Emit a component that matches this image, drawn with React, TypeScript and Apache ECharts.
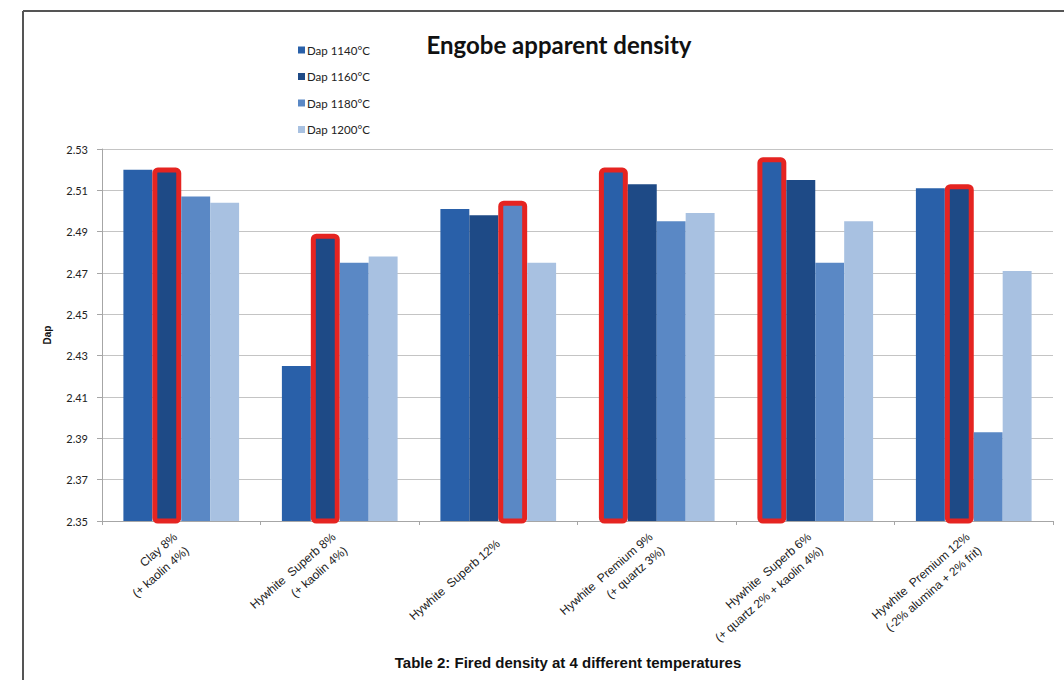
import React, { useEffect, useRef } from "react";
import * as echarts from "echarts";

const categories = [
  "Clay 8%\n(+ kaolin 4%)",
  "Hywhite  Superb 8%\n(+ kaolin 4%)",
  "Hywhite  Superb 12%",
  "Hywhite  Premium 9%\n(+ quartz 3%)",
  "Hywhite  Superb 6%\n(+ quartz 2% + kaolin 4%)",
  "Hywhite  Premium 12%\n(-2% alumina + 2% frit)",
];
const seriesNames = ["Dap 1140°C", "Dap 1160°C", "Dap 1180°C", "Dap 1200°C"];
const dap1140 = [2.52, 2.425, 2.501, 2.521, 2.526, 2.511];
const dap1160 = [2.521, 2.489, 2.498, 2.513, 2.515, 2.513];
const dap1180 = [2.507, 2.475, 2.505, 2.495, 2.475, 2.393];
const dap1200 = [2.504, 2.478, 2.475, 2.499, 2.495, 2.471];
// index of the series outlined in red, per category
const highlighted = [1, 1, 2, 0, 0, 1];
const yTicks = [2.35, 2.37, 2.39, 2.41, 2.43, 2.45, 2.47, 2.49, 2.51, 2.53];

const colors = ["#2960a9", "#1e4a86", "#5a88c5", "#a8c1e1"];

export default function App() {
  const ref = useRef<HTMLDivElement>(null);
  useEffect(() => {
    if (!ref.current) return;
    const chart = echarts.init(ref.current, null, { renderer: "svg" });
    const allData = [dap1140, dap1160, dap1180, dap1200];
    const series = allData.map((arr, si) => ({
      name: seriesNames[si],
      type: "bar",
      barGap: "0%",
      barCategoryGap: "27%",
      itemStyle: { color: colors[si] },
      data: arr.map((v, ci) =>
        highlighted[ci] === si
          ? { value: v, itemStyle: { color: colors[si], borderColor: "#e52421", borderWidth: 5, borderRadius: 3 } }
          : v
      ),
    }));
    chart.setOption({
      animation: false,
      backgroundColor: "#ffffff",
      title: {
        text: "Engobe apparent density",
        left: 554,
        top: 27,
        textAlign: "center",
        textStyle: { fontFamily: "Lato", fontWeight: "bold", fontSize: 24, color: "#111" },
      },
      legend: {
        orient: "vertical",
        left: 293,
        top: 38,
        itemWidth: 7,
        itemHeight: 7,
        itemGap: 12.5,
        icon: "rect",
        textStyle: { fontFamily: "Lato", fontSize: 11.5, color: "#222", lineHeight: 14, padding: [0, 0, 0, -3] },
        data: seriesNames,
      },
      grid: { left: 102, right: 11, top: 149, bottom: 159, containLabel: false },
      xAxis: {
        type: "category",
        data: categories,
        axisLine: { lineStyle: { color: "#a6a6a6" } },
        axisTick: { show: true, length: 4, lineStyle: { color: "#a6a6a6" } },
        axisLabel: {
          interval: 0,
          rotate: 41,
          margin: 21,
          fontFamily: "Liberation Sans",
          fontSize: 12,
          lineHeight: 18,
          color: "#222",
        },
      },
      yAxis: {
        type: "value",
        min: 2.35,
        max: 2.53,
        name: "Dap",
        nameLocation: "middle",
        nameRotate: 90,
        nameGap: 50,
        nameTextStyle: { fontFamily: "Liberation Sans", fontWeight: "bold", fontSize: 10, color: "#111" },
        axisLine: { show: true, lineStyle: { color: "#a6a6a6" } },
        axisTick: { show: true, length: 5, customValues: yTicks, lineStyle: { color: "#a6a6a6" } },
        axisLabel: {
          customValues: yTicks,
          formatter: (v: number) => v.toFixed(2),
          margin: 14,
          fontFamily: "Lato",
          fontSize: 11,
          color: "#222",
        },
        splitLine: { show: true, lineStyle: { color: "#c4c4c4", width: 1 } },
      },
      graphic: [
        { type: "line", shape: { x1: 23, y1: 11, x2: 1064, y2: 11 }, style: { stroke: "#555", lineWidth: 2 } },
        { type: "line", shape: { x1: 23, y1: 11, x2: 23, y2: 680 }, style: { stroke: "#555", lineWidth: 2 } },
        {
          type: "text",
          x: 568,
          y: 662,
          style: {
            text: "Table 2: Fired density at 4 different temperatures",
            fontFamily: "Liberation Sans",
            fontWeight: "bold",
            fontSize: 15,
            fill: "#111",
            textAlign: "center",
            textVerticalAlign: "middle",
          },
        },
      ],
      series,
    });
    return () => chart.dispose();
  }, []);
  return <div ref={ref} style={{ position: "fixed", left: 0, top: 0, width: 1064, height: 680 }} />;
}
